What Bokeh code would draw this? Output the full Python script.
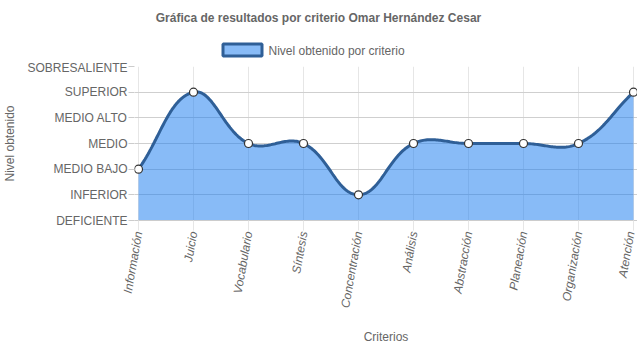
import math
import numpy as np
from bokeh.plotting import figure
from bokeh.layouts import column
from bokeh.models import Range1d, FixedTicker
from bokeh.core.properties import value
from bokeh.embed import file_html
from bokeh.resources import INLINE

# ---- data ----
categories = ["Información", "Juicio", "Vocabulario", "Síntesis", "Concentración",
              "Análisis", "Abstracción", "Planeación", "Organización", "Atención"]
level_labels = ["DEFICIENTE", "INFERIOR", "MEDIO BAJO", "MEDIO", "MEDIO ALTO",
                "SUPERIOR", "SOBRESALIENTE"]
values = [2, 5, 3, 3, 1, 3, 3, 3, 3, 5]

title_text = "Gráfica de resultados por criterio Omar Hernández Cesar"
series_name = "Nivel obtenido por criterio"
x_title = "Criterios"
y_title = "Nivel obtenido"

FONT = "Liberation Sans"
GREY = "#666666"
LINE = "#2f5f97"
FILL = "#1e7ff0"
FILL_ALPHA = 0.53

W = 637
HEAD_H = 60
MAIN_H = 348 - HEAD_H
FL = 134
PX_X = 55.0
PX_Y = 154.0 / 6
pad = 4 / PX_X

# ---- header: title + legend (frame aligned with the chart frame: x in page px) ----
head = figure(width=W, height=HEAD_H, output_backend="svg", toolbar_location=None,
              x_range=Range1d(FL, W), y_range=Range1d(HEAD_H, 0),
              min_border=0, min_border_left=FL, min_border_right=0,
              min_border_top=0, min_border_bottom=0)
head.axis.visible = False
head.grid.visible = False
head.outline_line_color = None
head.title.visible = False
head.text(x=[318], y=[17], text=[title_text], text_font=value(FONT),
          text_font_size="12px", text_font_style="bold", text_color=GREY,
          text_align="center", text_baseline="middle")
head.quad(left=[222.5], right=[261.5], top=[43.5], bottom=[55.5],
          fill_color=FILL, fill_alpha=FILL_ALPHA, line_color=LINE, line_width=3)
head.text(x=[268], y=[50], text=[series_name], text_font=value(FONT),
          text_font_size="12px", text_color=GREY,
          text_align="left", text_baseline="middle")

# ---- main chart ----
p = figure(width=W, height=MAIN_H, output_backend="svg", toolbar_location=None,
           x_range=Range1d(-pad, len(categories) - 1 + pad),
           y_range=Range1d(0, len(level_labels) - 1),
           min_border_left=FL, min_border_right=0, min_border_top=6,
           min_border_bottom=128)
p.outline_line_color = None
p.title.visible = False

# smooth curve (Chart.js style spline, tension 0.4)
xs = np.arange(len(values), dtype=float)
ys = np.array(values, dtype=float)
t = 0.4
n = len(xs)
cp_prev, cp_next = [], []
for i in range(n):
    pv = (xs[max(i - 1, 0)], ys[max(i - 1, 0)])
    cu = (xs[i], ys[i])
    nx = (xs[min(i + 1, n - 1)], ys[min(i + 1, n - 1)])
    d01 = math.hypot((cu[0] - pv[0]) * PX_X, (cu[1] - pv[1]) * PX_Y)
    d12 = math.hypot((nx[0] - cu[0]) * PX_X, (nx[1] - cu[1]) * PX_Y)
    s01 = d01 / (d01 + d12) if (d01 + d12) else 0
    s12 = d12 / (d01 + d12) if (d01 + d12) else 0
    fa, fb = t * s01, t * s12
    cp_prev.append((cu[0] - fa * (nx[0] - pv[0]), min(max(cu[1] - fa * (nx[1] - pv[1]), 0), 6)))
    cp_next.append((cu[0] + fb * (nx[0] - pv[0]), min(max(cu[1] + fb * (nx[1] - pv[1]), 0), 6)))

cx, cy = [], []
tt = np.linspace(0, 1, 40)
for i in range(n - 1):
    P0 = np.array([xs[i], ys[i]])
    P1 = np.array(cp_next[i])
    P2 = np.array(cp_prev[i + 1])
    P3 = np.array([xs[i + 1], ys[i + 1]])
    for k, u in enumerate(tt):
        if i > 0 and k == 0:
            continue
        b = ((1 - u) ** 3) * P0 + 3 * ((1 - u) ** 2) * u * P1 + 3 * (1 - u) * u * u * P2 + u ** 3 * P3
        cx.append(b[0]); cy.append(b[1])

p.varea(x=cx, y1=[0] * len(cx), y2=cy, fill_color=FILL, fill_alpha=FILL_ALPHA)
p.line(x=cx, y=cy, line_color=LINE, line_width=3)
p.scatter(x=xs, y=ys, size=8, fill_color="white", line_color="#333333", line_width=1.2)

# axes
p.xaxis.ticker = FixedTicker(ticks=list(range(len(categories))))
p.xaxis.major_label_overrides = {i: c for i, c in enumerate(categories)}
p.xaxis.major_label_orientation = math.radians(80)
p.yaxis.ticker = FixedTicker(ticks=list(range(len(level_labels))))
p.yaxis.major_label_overrides = {i: c for i, c in enumerate(level_labels)}

for ax in (p.xaxis, p.yaxis):
    ax.major_label_text_font = FONT
    ax.major_label_text_font_size = "12px"
    ax.major_label_text_color = GREY
    ax.major_tick_in = 0
    ax.minor_tick_line_color = None
    ax.major_label_standoff = 1
    ax.axis_label_text_font = FONT
    ax.axis_label_text_font_size = "12px"
    ax.axis_label_text_color = GREY
    ax.axis_label_text_font_style = "normal"
p.xaxis.major_label_text_font_style = "italic"
p.yaxis.axis_line_color = None
p.yaxis.major_tick_out = 6
p.yaxis.major_tick_line_color = "#cccccc"
p.xaxis.axis_line_color = "#cccccc"
p.xaxis.major_tick_out = 10
p.xaxis.major_tick_line_color = "#e6e6e6"
p.xaxis.axis_label = x_title
p.xaxis.axis_label_standoff = 17
p.yaxis.axis_label = y_title
p.yaxis.axis_label_standoff = 7

p.xgrid.grid_line_color = "#e6e6e6"
p.ygrid.grid_line_color = "#cfcfcf"

layout = column(head, p, spacing=0)
open("out.html", "w").write(file_html(layout, INLINE))
